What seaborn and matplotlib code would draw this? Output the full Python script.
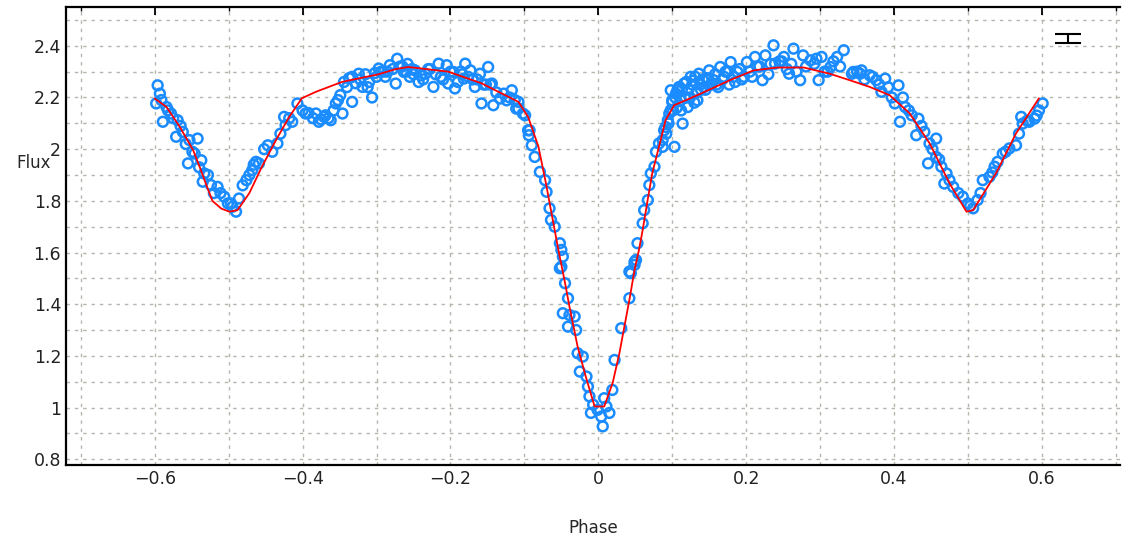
import numpy as np
import pandas as pd
import seaborn as sns
import matplotlib.pyplot as plt
from matplotlib.ticker import MultipleLocator

# observed points (phase, flux)
obs_phase = [
    -0.596, -0.593, -0.598, -0.584, -0.589, -0.578, -0.569, -0.571, -0.562, -0.553,
    -0.542, -0.555, -0.546, -0.537, -0.533, -0.528, -0.535, -0.524, -0.515, -0.506,
    -0.501, -0.495, -0.486, -0.490, -0.476, -0.472, -0.468, -0.463, -0.459, -0.447,
    -0.441, -0.434, -0.425, -0.423, -0.414, -0.407, -0.400, -0.396, -0.382, -0.378,
    -0.369, -0.362, -0.355, -0.371, -0.349, -0.346, -0.344, -0.333, -0.333, -0.324,
    -0.319, -0.310, -0.306, -0.297, -0.288, -0.282, -0.272, -0.274, -0.263, -0.255,
    -0.243, -0.248, -0.234, -0.223, -0.216, -0.205, -0.203, -0.196, -0.194, -0.182,
    -0.180, -0.173, -0.167, -0.160, -0.158, -0.149, -0.144, -0.142, -0.133, -0.124,
    -0.117, -0.108, -0.108, -0.099, -0.093, -0.094, -0.111, -0.102, -0.095, -0.090,
    -0.086, -0.079, -0.072, -0.070, -0.066, -0.064, -0.059, -0.052, -0.050, -0.050,
    -0.048, -0.052, -0.045, -0.041, -0.048, -0.039, -0.032, -0.041, -0.030, -0.028,
    -0.021, -0.025, -0.016, -0.014, -0.012, -0.007, -0.010, -0.001, 0.004, 0.006,
    0.011, 0.015, 0.008, 0.019, 0.022, 0.031, 0.042, 0.044, 0.049, 0.051,
    0.042, 0.049, 0.053, 0.060, 0.062, 0.067, 0.069, 0.071, 0.076, 0.078,
    0.082, 0.087, 0.089, 0.094, 0.098, 0.100, 0.105, 0.103, 0.087, 0.091,
    0.096, 0.100, 0.098, 0.107, 0.114, 0.116, 0.121, 0.125, 0.134, 0.136,
    0.143, 0.150, 0.156, 0.165, 0.170, 0.179, 0.188, 0.197, 0.201, 0.212,
    0.222, 0.226, 0.237, 0.239, 0.251, 0.258, 0.264, 0.273, 0.277, 0.287,
    0.298, 0.302, 0.314, 0.323, 0.332, 0.345, 0.354, 0.343, 0.356, 0.367,
    0.376, 0.388, 0.383, 0.406, 0.401, 0.415, 0.408, 0.424, 0.433, 0.430,
    0.441, 0.448, 0.457, 0.446, 0.457, 0.464, 0.471, 0.468, 0.480, 0.493,
    0.500, 0.507, 0.513, 0.520, 0.529, 0.536, 0.540, 0.547, 0.556, 0.565,
    0.572, 0.574, 0.583, 0.590, 0.596, 0.601,
    0.110, 0.118, 0.128, 0.139, 0.147, 0.160, 0.175, 0.185, 0.112, 0.130,
    -0.290, -0.268, -0.250, -0.228, -0.210, -0.186, -0.170, -0.152, -0.300, -0.258,
    0.245, 0.268, 0.292, 0.215, 0.230, 0.310,
    # denser parts of the cloud
    -0.591, -0.582, -0.575, -0.565, -0.558, -0.549, -0.540, -0.520, -0.511, -0.497,
    -0.481, -0.466, -0.452, -0.430, -0.418, -0.392, -0.386, -0.375, -0.365, -0.358,
    -0.352, -0.340, -0.337, -0.328, -0.322, -0.315, -0.312, -0.302, -0.294, -0.285,
    -0.278, -0.265, -0.260, -0.252, -0.240, -0.237, -0.230, -0.220, -0.213, -0.200,
    -0.190, -0.184, -0.176, -0.164, -0.155, -0.146, -0.138, -0.128, -0.120, -0.113,
    0.092, 0.095, 0.101, 0.104, 0.106, 0.109, 0.111, 0.113, 0.117, 0.119,
    0.122, 0.124, 0.127, 0.131, 0.133, 0.138, 0.141, 0.145, 0.149, 0.153,
    0.158, 0.162, 0.168, 0.172, 0.177, 0.183, 0.191, 0.194, 0.205, 0.208,
    0.218, 0.233, 0.248, 0.255, 0.261, 0.281, 0.295, 0.306, 0.318, 0.327,
    0.350, 0.360, 0.371, 0.380, 0.392, 0.397, 0.412, 0.420, 0.437, 0.452,
    0.461, 0.475, 0.487, 0.503, 0.517, 0.533, 0.551, 0.569, 0.580, 0.593,
]
obs_flux = [
    2.247, 2.215, 2.177, 2.163, 2.106, 2.138, 2.112, 2.048, 2.067, 2.035,
    2.041, 1.945, 1.983, 1.957, 1.906, 1.900, 1.874, 1.861, 1.854, 1.816,
    1.790, 1.777, 1.809, 1.758, 1.880, 1.900, 1.919, 1.951, 1.945, 2.015,
    1.990, 2.022, 2.125, 2.093, 2.106, 2.177, 2.150, 2.138, 2.138, 2.106,
    2.131, 2.112, 2.177, 2.125, 2.209, 2.138, 2.260, 2.280, 2.183, 2.292,
    2.241, 2.260, 2.200, 2.312, 2.280, 2.325, 2.350, 2.254, 2.299, 2.280,
    2.260, 2.305, 2.292, 2.241, 2.331, 2.325, 2.254, 2.299, 2.235, 2.273,
    2.331, 2.305, 2.241, 2.292, 2.177, 2.318, 2.254, 2.170, 2.196, 2.189,
    2.228, 2.183, 2.157, 2.131, 2.073, 2.054, 2.157, 2.138, 2.073, 2.015,
    1.970, 1.912, 1.880, 1.835, 1.771, 1.726, 1.700, 1.636, 1.610, 1.545,
    1.584, 1.539, 1.481, 1.423, 1.365, 1.358, 1.352, 1.313, 1.300, 1.210,
    1.197, 1.139, 1.120, 1.081, 1.043, 1.011, 0.979, 0.991, 0.965, 0.927,
    1.004, 0.979, 1.036, 1.068, 1.184, 1.307, 1.423, 1.520, 1.552, 1.571,
    1.526, 1.564, 1.636, 1.713, 1.764, 1.803, 1.861, 1.906, 1.932, 1.990,
    2.022, 2.009, 2.073, 2.112, 2.151, 2.189, 2.215, 2.009, 2.035, 2.086,
    2.138, 2.183, 2.228, 2.228, 2.099, 2.254, 2.163, 2.280, 2.189, 2.292,
    2.241, 2.305, 2.267, 2.318, 2.280, 2.337, 2.299, 2.280, 2.337, 2.357,
    2.267, 2.363, 2.402, 2.331, 2.357, 2.292, 2.389, 2.267, 2.363, 2.344,
    2.267, 2.357, 2.318, 2.357, 2.383, 2.299, 2.292, 2.292, 2.305, 2.286,
    2.267, 2.273, 2.222, 2.247, 2.177, 2.163, 2.106, 2.131, 2.118, 2.054,
    2.067, 2.022, 2.041, 1.945, 1.970, 1.932, 1.906, 1.867, 1.854, 1.816,
    1.790, 1.771, 1.803, 1.880, 1.893, 1.932, 1.951, 1.983, 2.003, 2.015,
    2.125, 2.099, 2.106, 2.118, 2.150, 2.177,
    2.240, 2.200, 2.265, 2.230, 2.275, 2.250, 2.300, 2.260, 2.150, 2.180,
    2.300, 2.320, 2.290, 2.310, 2.270, 2.300, 2.270, 2.250, 2.280, 2.330,
    2.340, 2.300, 2.330, 2.320, 2.290, 2.300,
    # denser parts of the cloud
    2.190, 2.150, 2.120, 2.090, 2.020, 1.990, 1.930, 1.830, 1.830, 1.790,
    1.860, 1.940, 2.000, 2.060, 2.120, 2.140, 2.120, 2.115, 2.120, 2.150,
    2.190, 2.240, 2.275, 2.255, 2.270, 2.290, 2.240, 2.295, 2.300, 2.300,
    2.310, 2.320, 2.300, 2.310, 2.285, 2.270, 2.310, 2.290, 2.280, 2.300,
    2.260, 2.290, 2.280, 2.270, 2.250, 2.250, 2.220, 2.215, 2.200, 2.190,
    2.060, 2.100, 2.150, 2.200, 2.160, 2.240, 2.190, 2.230, 2.200, 2.260,
    2.230, 2.200, 2.250, 2.280, 2.220, 2.250, 2.270, 2.230, 2.270, 2.250,
    2.290, 2.240, 2.270, 2.300, 2.250, 2.280, 2.310, 2.270, 2.300, 2.280,
    2.320, 2.330, 2.340, 2.310, 2.330, 2.320, 2.350, 2.300, 2.340, 2.320,
    2.300, 2.270, 2.280, 2.250, 2.240, 2.200, 2.200, 2.150, 2.090, 2.000,
    1.960, 1.880, 1.830, 1.780, 1.830, 1.910, 1.990, 2.060, 2.110, 2.130,
]

# model curve
model_phase = [
    -0.600, -0.584, -0.566, -0.548, -0.539, -0.530, -0.522, -0.510, -0.499, -0.488,
    -0.472, -0.455, -0.436, -0.418, -0.401, -0.382, -0.347, -0.297, -0.274, -0.257,
    -0.203, -0.158, -0.108, -0.095, -0.081, -0.071, -0.054, -0.045, -0.039, -0.028,
    -0.017, -0.005, 0.008, 0.0195, 0.0285, 0.042, 0.049, 0.055, 0.060, 0.0667,
    0.073, 0.082, 0.091, 0.1026, 0.134, 0.178, 0.210, 0.242, 0.278, 0.313,
    0.340, 0.367, 0.394, 0.421, 0.448, 0.475, 0.498, 0.507, 0.538, 0.565,
    0.596,
]
model_flux = [
    2.196, 2.163, 2.086, 1.996, 1.930, 1.860, 1.800, 1.770, 1.758, 1.764,
    1.830, 1.932, 2.035, 2.125, 2.197, 2.222, 2.260, 2.290, 2.310, 2.318,
    2.300, 2.255, 2.183, 2.125, 2.010, 1.870, 1.610, 1.482, 1.390, 1.236,
    1.120, 1.004, 1.004, 1.096, 1.210, 1.416, 1.532, 1.610, 1.687, 1.803,
    1.907, 2.009, 2.112, 2.170, 2.209, 2.267, 2.305, 2.316, 2.316, 2.292,
    2.267, 2.241, 2.209, 2.139, 2.023, 1.868, 1.758, 1.764, 1.907, 2.061,
    2.197,
]

obs = pd.DataFrame({"Phase": obs_phase, "Flux": obs_flux})
model = pd.DataFrame({"Phase": model_phase, "Flux": model_flux})

sns.set_style("white")
plt.rcParams["font.family"] = ["DejaVu Sans"]

fig = plt.figure(figsize=(11.28, 5.44), dpi=100)
ax = fig.add_axes([0.0585, 0.145, 0.934, 0.842])

sns.scatterplot(data=obs, x="Phase", y="Flux", ax=ax, marker="o",
                facecolor="none", edgecolor="#1a8cff", linewidth=1.8, s=50, zorder=3)
sns.lineplot(data=model, x="Phase", y="Flux", ax=ax, color="red", lw=1.3,
             sort=False, estimator=None, zorder=4)

# error bar symbol, top right
ax.errorbar([0.635], [2.427], yerr=[0.017], color="black", capsize=9.7,
            elinewidth=1.5, capthick=1.5, fmt="none", zorder=5)

ax.set_xlim(-0.72, 0.705)
ax.set_ylim(0.777, 2.55)
ax.xaxis.set_major_locator(MultipleLocator(0.2))
ax.xaxis.set_minor_locator(MultipleLocator(0.1))
ax.yaxis.set_major_locator(MultipleLocator(0.2))
ax.yaxis.set_minor_locator(MultipleLocator(0.1))
ax.xaxis.set_major_formatter(plt.FuncFormatter(lambda v, p: f"{v:g}".replace("-", "\u2212")))
ax.yaxis.set_major_formatter(plt.FuncFormatter(lambda v, p: f"{v:g}"))

ax.grid(True, which="both", color="#b4b8ac", linestyle=(0, (2.5, 3.5)), lw=1.0)
ax.set_axisbelow(True)
ax.tick_params(which="both", direction="in", top=True, right=False, color="black",
               labelsize=12.5, labelcolor="#222222")
ax.tick_params(which="major", length=6, width=1.3)
ax.tick_params(which="minor", length=3, width=1.0)
for side in ["left", "bottom", "top"]:
    ax.spines[side].set_linewidth(1.6)
    ax.spines[side].set_color("black")
ax.spines["right"].set_visible(False)

ax.set_xlabel("Phase", fontsize=12, labelpad=22)
ax.set_ylabel("Flux", fontsize=12, rotation=0)
ax.yaxis.set_label_coords(-0.031, 0.64)

fig.savefig("out.png", dpi=100)
